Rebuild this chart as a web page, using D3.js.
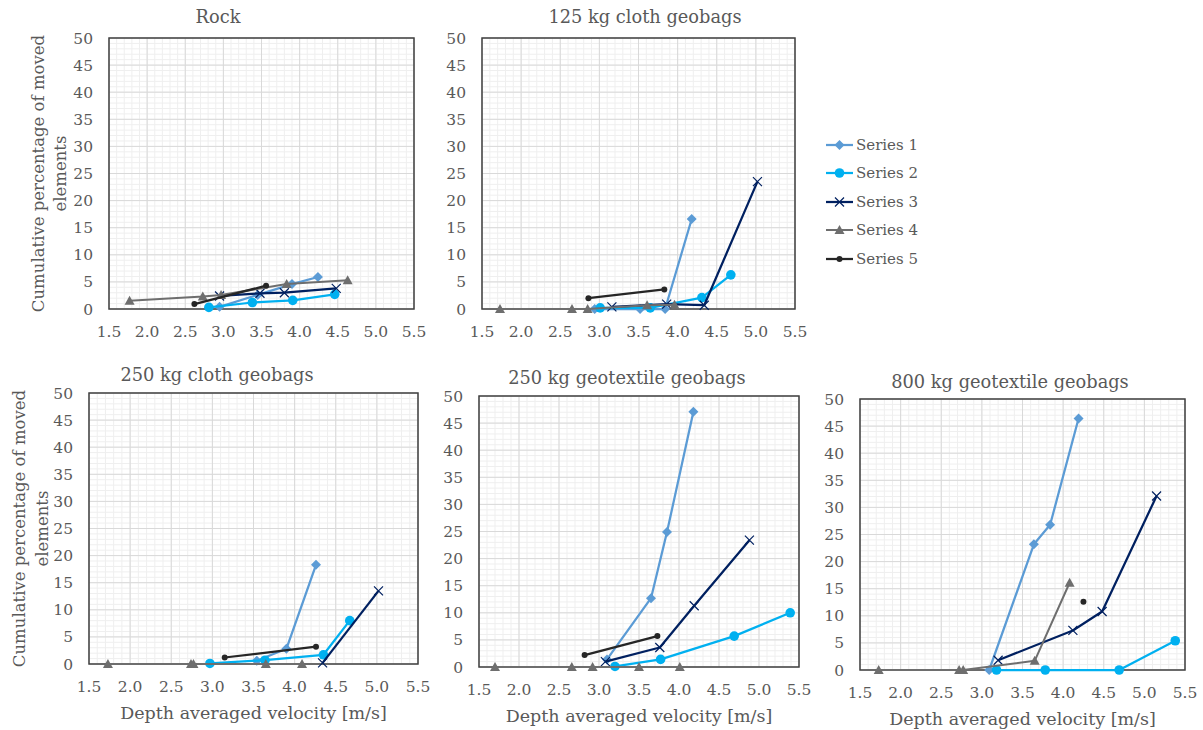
<!DOCTYPE html>
<html>
<head>
<meta charset="utf-8">
<script src="https://cdn.jsdelivr.net/npm/d3@7"></script>
<style>
  body { margin: 0; background: #fff; }
  svg { display: block; font-family: "DejaVu Serif", serif; }
</style>
</head>
<body>
<svg id="chart" width="1203" height="730"></svg>
<script>
// ---- data ----
const seriesNames = ["Series 1", "Series 2", "Series 3", "Series 4", "Series 5"];
const xTicks = [1.5, 2.0, 2.5, 3.0, 3.5, 4.0, 4.5, 5.0, 5.5];
const yTicks = [0, 5, 10, 15, 20, 25, 30, 35, 40, 45, 50];

// each panel: [series1, series2, series3, series4, series5], points are [velocity, percentage]
const rockData = [
    [[2.95, 0.4], [3.45, 2.6], [3.90, 4.6], [4.24, 5.9]],
    [[2.81, 0.3], [3.38, 1.2], [3.91, 1.6], [4.46, 2.7]],
    [[2.95, 2.4], [3.48, 2.9], [3.80, 3.0], [4.48, 3.8]],
    [[1.77, 1.5], [2.73, 2.3], [2.97, 2.6], [3.83, 4.6], [4.63, 5.3]],
    [[2.62, 0.9], [3.56, 4.3]]
];
const cloth125Data = [
    [[2.94, 0.0], [3.52, 0.0], [3.84, 0.0], [4.18, 16.6]],
    [[3.01, 0.2], [3.65, 0.2], [4.31, 2.1], [4.68, 6.3]],
    [[3.16, 0.4], [3.86, 0.9], [4.34, 0.7], [5.02, 23.5]],
    [[1.73, 0.0], [2.65, 0.0], [2.85, 0.0], [3.61, 0.7], [3.96, 0.8]],
    [[2.86, 2.0], [3.83, 3.6]]
];
const cloth250Data = [
    [[3.54, 0.6], [3.90, 2.8], [4.26, 18.3]],
    [[2.97, 0.1], [3.64, 0.7], [4.35, 1.7], [4.67, 8.0]],
    [[4.34, 0.2], [5.02, 13.5]],
    [[1.73, 0.0], [2.74, 0.0], [2.77, 0.0], [3.65, 0.0], [4.09, 0.0]],
    [[3.15, 1.2], [4.26, 3.2]]
];
const geotex250Data = [
    [[3.10, 1.4], [3.65, 12.7], [3.85, 24.9], [4.18, 47.1]],
    [[3.20, 0.1], [3.77, 1.4], [4.69, 5.7], [5.39, 10.0]],
    [[3.08, 1.0], [3.76, 3.6], [4.19, 11.3], [4.88, 23.4]],
    [[1.70, 0.0], [2.66, 0.0], [2.92, 0.0], [3.50, 0.0], [4.01, 0.0]],
    [[2.82, 2.2], [3.73, 5.7]]
];
const geotex800Data = [
    [[3.09, 0.0], [3.64, 23.2], [3.84, 26.8], [4.19, 46.4]],
    [[3.18, 0.0], [3.78, 0.0], [4.69, 0.0], [5.38, 5.4]],
    [[3.20, 1.8], [4.12, 7.3], [4.48, 10.8], [5.15, 32.1]],
    [[1.73, 0.0], [2.72, 0.0], [2.77, 0.0], [3.65, 1.7], [4.08, 16.1]],
    [[4.25, 12.6]]
];

// ---- styling / layout ----
const colors = ["#5b9bd5", "#00b0f0", "#002060", "#6e6e6e", "#262626"];
const lineWidths = [2.25, 2.25, 2.25, 2, 2.25];
const textColor = "#595959";

const panels = [
    { title: "Rock", data: rockData, x0: 109, x1: 414, y0: 38, y1: 309, tx: 218, ty: 23, yTitle: [38, 60] },
    { title: "125 kg cloth geobags", data: cloth125Data, x0: 482, x1: 795, y0: 38, y1: 309, tx: 645, ty: 23 },
    { title: "250 kg cloth geobags", data: cloth250Data, x0: 89, x1: 418, y0: 393, y1: 664, tx: 217, ty: 381, yTitle: [19, 42], xTitle: true },
    { title: "250 kg geotextile geobags", data: geotex250Data, x0: 479, x1: 799, y0: 396, y1: 667, tx: 627, ty: 384, xTitle: true },
    { title: "800 kg geotextile geobags", data: geotex800Data, x0: 860, x1: 1185, y0: 399, y1: 670, tx: 1010, ty: 388, xTitle: true }
];

const svg = d3.select("#chart");

function drawMarker(g, i, x, y) {
    const c = colors[i];
    if (i === 0) {
        g.append("path").attr("d", `M${x},${y - 5}L${x + 5},${y}L${x},${y + 5}L${x - 5},${y}Z`).attr("fill", c);
    } else if (i === 1) {
        g.append("circle").attr("cx", x).attr("cy", y).attr("r", 4.8).attr("fill", c);
    } else if (i === 2) {
        g.append("path").attr("d", `M${x - 4.5},${y - 4.5}L${x + 4.5},${y + 4.5}M${x - 4.5},${y + 4.5}L${x + 4.5},${y - 4.5}`)
            .attr("stroke", c).attr("stroke-width", 1.2).attr("fill", "none");
    } else if (i === 3) {
        g.append("path").attr("d", `M${x},${y - 5}L${x + 5},${y + 4}L${x - 5},${y + 4}Z`).attr("fill", c);
    } else {
        g.append("circle").attr("cx", x).attr("cy", y).attr("r", 3).attr("fill", c);
    }
}

panels.forEach(p => {
    const x = d3.scaleLinear().domain([1.5, 5.5]).range([p.x0, p.x1]);
    const y = d3.scaleLinear().domain([0, 50]).range([p.y1, p.y0]);
    const g = svg.append("g");

    // minor grid
    const minorX = d3.range(15, 56).map(d => d / 10);
    const minorY = d3.range(0, 51);
    g.append("g").selectAll("line").data(minorX).join("line")
        .attr("x1", d => x(d)).attr("x2", d => x(d)).attr("y1", p.y0).attr("y2", p.y1)
        .attr("stroke", "#efefef").attr("stroke-width", 1);
    g.append("g").selectAll("line").data(minorY).join("line")
        .attr("y1", d => y(d)).attr("y2", d => y(d)).attr("x1", p.x0).attr("x2", p.x1)
        .attr("stroke", "#efefef").attr("stroke-width", 1);
    // major grid
    g.append("g").selectAll("line").data(xTicks).join("line")
        .attr("x1", d => x(d)).attr("x2", d => x(d)).attr("y1", p.y0).attr("y2", p.y1)
        .attr("stroke", "#d9d9d9").attr("stroke-width", 1);
    g.append("g").selectAll("line").data(yTicks).join("line")
        .attr("y1", d => y(d)).attr("y2", d => y(d)).attr("x1", p.x0).attr("x2", p.x1)
        .attr("stroke", "#d9d9d9").attr("stroke-width", 1);

    // plot border
    g.append("rect").attr("x", p.x0).attr("y", p.y0)
        .attr("width", p.x1 - p.x0).attr("height", p.y1 - p.y0)
        .attr("fill", "none").attr("stroke", "#404040").attr("stroke-width", 1.5);

    // tick labels
    g.append("g").selectAll("text").data(xTicks).join("text")
        .attr("x", d => x(d)).attr("y", p.y1 + 28)
        .attr("text-anchor", "middle").attr("font-size", 15.5).attr("fill", textColor)
        .text(d => d3.format(".1f")(d));
    g.append("g").selectAll("text").data(yTicks).join("text")
        .attr("x", p.x0 - 16).attr("y", d => y(d)).attr("dy", "0.36em")
        .attr("text-anchor", "end").attr("font-size", 15.5).attr("fill", textColor)
        .text(d => d);

    // title
    g.append("text").attr("x", p.tx).attr("y", p.ty).attr("text-anchor", "middle")
        .attr("font-size", 17.8).attr("fill", textColor).text(p.title);

    if (p.yTitle) {
        const cy = (p.y0 + p.y1) / 2;
        g.append("text").attr("transform", `translate(${p.yTitle[0] + 6},${cy}) rotate(-90)`)
            .attr("text-anchor", "middle").attr("font-size", 16.5).attr("fill", textColor)
            .text("Cumulative percentage of moved");
        g.append("text").attr("transform", `translate(${p.yTitle[1] + 6},${cy}) rotate(-90)`)
            .attr("text-anchor", "middle").attr("font-size", 16.5).attr("fill", textColor)
            .text("elements");
    }
    if (p.xTitle) {
        g.append("text").attr("x", (p.x0 + p.x1) / 2).attr("y", p.y1 + 55)
            .attr("text-anchor", "middle").attr("font-size", 17.5).attr("fill", textColor)
            .text("Depth averaged velocity [m/s]");
    }

    // series
    const line = d3.line().x(d => x(d[0])).y(d => y(d[1]));
    p.data.forEach((pts, i) => {
        const sg = g.append("g");
        if (pts.length > 1) {
            sg.append("path").datum(pts).attr("d", line)
                .attr("fill", "none").attr("stroke", colors[i])
                .attr("stroke-width", lineWidths[i]).attr("stroke-linejoin", "round");
        }
        pts.forEach(d => drawMarker(sg, i, x(d[0]), y(d[1])));
    });
});

// legend
const legendY = [145, 173, 202, 230, 259];
const legend = svg.append("g");
seriesNames.forEach((name, i) => {
    legend.append("line").attr("x1", 826).attr("x2", 853)
        .attr("y1", legendY[i]).attr("y2", legendY[i])
        .attr("stroke", colors[i]).attr("stroke-width", lineWidths[i]);
    drawMarker(legend, i, 839.5, legendY[i]);
    legend.append("text").attr("x", 856).attr("y", legendY[i]).attr("dy", "0.35em")
        .attr("font-size", 15).attr("fill", textColor).text(name);
});
</script>
</body>
</html>
